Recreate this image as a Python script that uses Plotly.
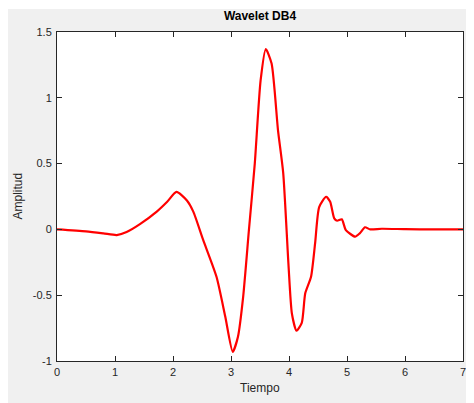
import plotly.graph_objects as go

# Data
tiempo = [0, 0.5, 0.8, 1.03, 1.2, 1.43, 1.72, 1.9, 2.06, 2.24, 2.35, 2.52, 2.75, 2.90,
          3.03, 3.12, 3.21, 3.31, 3.41, 3.51, 3.60, 3.70, 3.81, 3.90, 3.99, 4.05, 4.13,
          4.22, 4.28, 4.38, 4.45, 4.52, 4.64, 4.71, 4.78, 4.83, 4.91, 4.98, 5.14, 5.22,
          5.31, 5.40, 5.6, 6.0, 6.5, 7.0]
amplitud = [0, -0.015, -0.03, -0.043, -0.02, 0.04, 0.135, 0.21, 0.285, 0.22, 0.135, -0.08,
            -0.36, -0.66, -0.93, -0.815, -0.51, 0.0, 0.50, 1.13, 1.37, 1.26, 0.755, 0.43,
            -0.26, -0.64, -0.77, -0.71, -0.486, -0.36, -0.106, 0.17, 0.248, 0.21, 0.084,
            0.066, 0.077, -0.005, -0.055, -0.03, 0.016, 0.0, 0.005, 0.002, 0.0, 0.0]

x_ticks = [0, 1, 2, 3, 4, 5, 6, 7]
y_ticks = [-1, -0.5, 0, 0.5, 1, 1.5]
y_tick_labels = ["-1", "-0.5", "0", "0.5", "1", "1.5"]

# The page body adds an 8px offset, so the figure is sized to fill the rest
W, H = 466, 395
L, R, T, B = 49, 11, 24, 42
pw, ph = W - L - R, H - T - B

def px(xp):
    return (xp - L) / pw

def py(yp):
    return 1 - (yp - T) / ph

fig = go.Figure()
fig.add_trace(go.Scatter(
    x=tiempo, y=amplitud, mode="lines",
    line=dict(color="#ff0000", width=2.2, shape="spline", smoothing=0.6),
    hoverinfo="skip", showlegend=False,
))

axis_common = dict(
    showgrid=False, zeroline=False, showline=True, linecolor="#262626", linewidth=1,
    mirror="ticks", ticks="inside", ticklen=5, tickcolor="#262626", automargin=False,
    ticklabeloverflow="allow",
    tickfont=dict(family="Liberation Sans, Arial", size=11, color="#262626"),
)

fig.update_layout(
    width=W, height=H,
    margin=dict(l=L, r=R, t=T, b=B, autoexpand=False),
    paper_bgcolor="#f0f0f0", plot_bgcolor="#ffffff",
    font=dict(family="Liberation Sans, Arial", color="#262626"),
    xaxis=dict(range=[0, 7], tickvals=x_ticks, ticktext=[str(v) for v in x_ticks],
               ticklabelstandoff=1, **axis_common),
    yaxis=dict(range=[-1, 1.5], tickvals=y_ticks, ticktext=y_tick_labels,
               ticklabelstandoff=2, **axis_common),
    title=dict(text="<b>Wavelet DB4</b>", x=0.5, xanchor="center", xref="paper",
               y=1 - 8 / H, yanchor="middle",
               font=dict(family="Liberation Sans, Arial", size=12, color="#000000")),
    annotations=[
        dict(text="Tiempo", xref="paper", yref="paper", x=0.5, y=py(380), xanchor="center",
             yanchor="middle", showarrow=False,
             font=dict(family="Liberation Sans, Arial", size=12, color="#262626")),
        dict(text="Amplitud", xref="paper", yref="paper", x=px(9), y=0.5, xanchor="center",
             yanchor="middle", showarrow=False, textangle=-90,
             font=dict(family="Liberation Sans, Arial", size=12, color="#262626")),
    ],
    shapes=[
        dict(type="rect", xref="paper", yref="paper", x0=px(0), x1=px(W), y0=py(0), y1=py(1),
             fillcolor="#ffffff", line=dict(width=0), layer="above"),
    ],
)

fig.write_html("out.html")
